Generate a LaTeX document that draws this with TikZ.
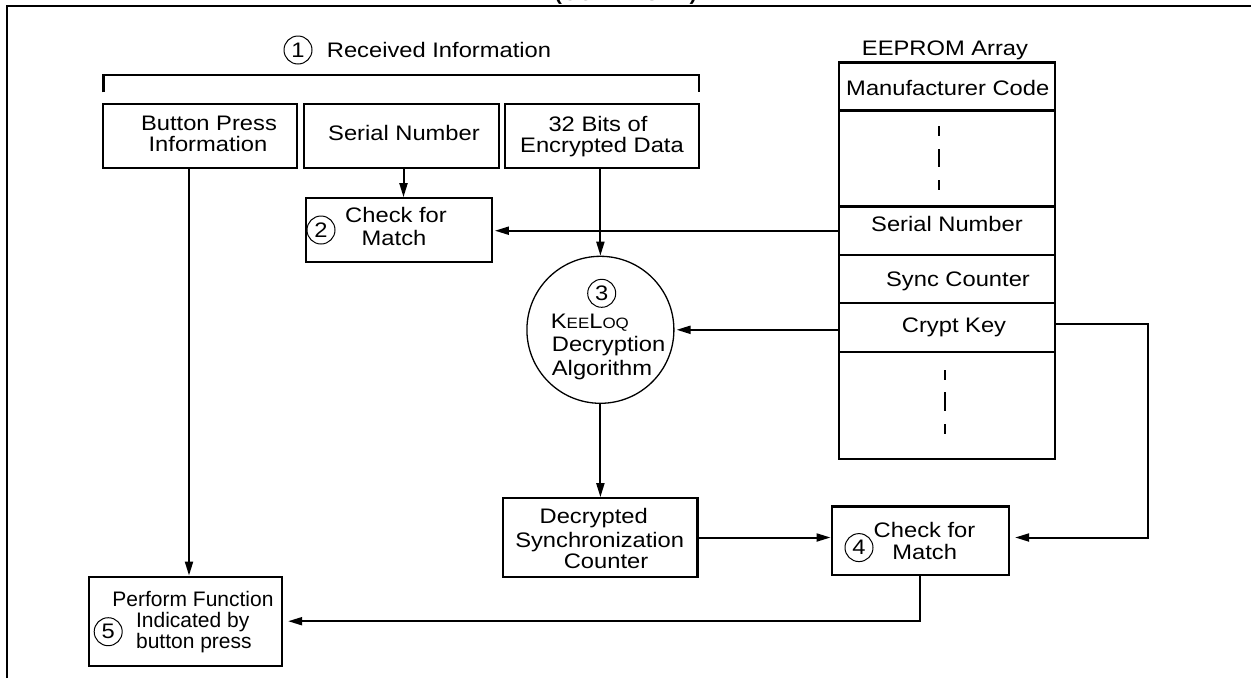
\documentclass[tikz,border=0pt]{standalone}
\usepackage{fontspec}
\setmainfont[FakeStretch=1.13]{Liberation Sans}
\newfontfamily\plainsans{Liberation Sans}
\usetikzlibrary{arrows.meta}
\tikzset{
  txt/.style={inner sep=0, anchor=base, font=\fontsize{21}{22}\selectfont},
  txtl/.style={txt, anchor=base west},
  ptxt/.style={inner sep=0, anchor=base, font=\plainsans\fontsize{21}{22}\selectfont},
  ptxtl/.style={ptxt, anchor=base west},
  titlef/.style={inner sep=0, anchor=base east, font=\fontsize{19}{19}\selectfont\bfseries},
  boxn/.style={draw, line width=2.3pt, inner sep=0},
  num/.style={draw, circle, line width=1pt, minimum size=28pt, inner sep=0, font=\fontsize{21}{22}\selectfont},
  arr/.style={line width=2pt, -{Triangle[length=14pt,width=8pt]}},
  conn/.style={line width=2pt},
  framel/.style={line width=2.5pt},
  dashl/.style={line width=2.5pt},
}
\begin{document}
\begin{tikzpicture}[x=1pt,y=-1pt]
\useasboundingbox (0,0) rectangle (1251,678);
\clip (0,0) rectangle (1251,678);
\node[titlef] (title) at (697,0) {(CONTINUED)};
\draw[framel] (7,678) -- (7,6.2) -- (1251,6.2);

% heading
\node[num] (n1) at (298,50) {1};
\node[txtl] (rcv) at (326.7,57.5) {Received Information};
\draw[conn, line width=2.2pt] (103.5,92.3) -- (103.5,75.2) -- (699,75.2) -- (699,92.3);
\node[txt] (eea) at (945,55.5) {EEPROM Array};

% input boxes
\node[boxn, minimum width=193.4pt, minimum height=63.4pt] (bp) at (200,136) {};
\node[boxn, minimum width=195pt, minimum height=63.4pt] (sn) at (401.5,136) {};
\node[boxn, minimum width=194pt, minimum height=63.4pt] (ed) at (602,136) {};
\node[txt] (bpa) at (209,130.5) {Button Press};
\node[txt] (bpb) at (208,151) {Information};
\node[txt] (snt) at (404,140) {Serial Number};
\node[txt] (eda) at (598,131) {32 Bits of};
\node[txt] (edb) at (602,152) {Encrypted Data};

% check 2
\node[boxn, minimum width=186pt, minimum height=64pt] (c2) at (398.75,230.3) {};
\node[num] (n2) at (321,230) {2};
\node[txt] (c2a) at (396,222.5) {Check for};
\node[txt] (c2b) at (394,245.8) {Match};

% EEPROM array
\node[boxn, minimum width=216pt, minimum height=48pt] (eMfr) at (947,86.4) {};
\node[boxn, minimum width=216pt, minimum height=96.1pt] (eD1) at (947,158.45) {};
\node[boxn, minimum width=216pt, minimum height=48.4pt] (eSer) at (947,230.7) {};
\node[boxn, minimum width=216pt, minimum height=48.4pt] (eSyn) at (947,279.1) {};
\node[boxn, minimum width=216pt, minimum height=48.4pt] (eKey) at (947,327.5) {};
\node[boxn, minimum width=216pt, minimum height=107.6pt] (eD2) at (947,405.5) {};
\node[txt] (tMfr) at (947.8,95.3) {Manufacturer Code};
\node[txt] (tSer) at (947,231.5) {Serial Number};
\node[txt] (tSyn) at (958,286) {Sync Counter};
\node[txt] (tKey) at (954,332) {Crypt Key};
\draw[dashl] (939,126) -- (939,136);
\draw[dashl] (939,149) -- (939,167);
\draw[dashl] (939,180) -- (939,190);
\draw[dashl] (945,370) -- (945,379.5);
\draw[dashl] (945,392) -- (945,410.5);
\draw[dashl] (945,424) -- (945,434);

% KeeLoq circle
\node[draw, circle, line width=1.3pt, minimum size=147pt, inner sep=0] (kl) at (600.4,329.8) {};
\node[num] (n3) at (601.7,293.3) {3};
\node[txtl] (kla) at (550.7,328.3) {K{\fontsize{15}{15}\selectfont EE}L{\fontsize{15}{15}\selectfont OQ}};
\node[txtl] (klb) at (551.7,351.7) {Decryption};
\node[txtl] (klc) at (551.7,375) {Algorithm};

% decrypted counter
\node[boxn, minimum width=194.2pt, minimum height=78.4pt] (dec) at (600.4,537.5) {};
\node[txt] (deca) at (593.7,523.5) {Decrypted};
\node[txt] (decb) at (599.7,547.5) {Synchronization};
\node[txt] (decc) at (606,568.5) {Counter};

% check 4
\node[boxn, minimum width=177.3pt, minimum height=68.8pt] (c4) at (920.35,540.9) {};
\node[num] (n4) at (859,547.6) {4};
\node[txt] (c4a) at (924.5,537) {Check for};
\node[txt] (c4b) at (924.7,559.6) {Match};

% perform function
\node[boxn, minimum width=193pt, minimum height=89pt] (pf) at (185.5,621.2) {};
\node[num] (n5) at (108.2,631.7) {5};
\node[ptxt] (pfa) at (193,606) {Perform Function};
\node[ptxtl] (pfb) at (135.9,627) {Indicated by};
\node[ptxtl] (pfc) at (135.9,648.7) {button press};

% connectors
\coordinate (kr) at (1148,324);
\draw[arr] ([xshift=-11pt]bp.south) -- ([xshift=-11pt]bp.south |- pf.north);
\draw[arr] ([xshift=2pt]sn.south) -- ([xshift=2pt]sn.south |- c2.north);
\draw[arr] (ed.south -| kl.north) -- (kl.north);
\draw[arr, shorten >=2pt] (eSer.west) -- (eSer.west -| c2.east);
\draw[arr, shorten >=2pt] (kl.east -| eKey.west) -- (kl.east);
\draw[arr] (kl.south) -- (kl.south |- dec.north);
\draw[arr] (dec.east) -- (dec.east -| c4.west);
\draw[arr, shorten >=5pt] (eKey.east |- kr) -- (kr) |- (c4.east |- dec.east);
\draw[arr, shorten >=5pt] (c4.south) |- (pf.east);
\end{tikzpicture}
\end{document}
